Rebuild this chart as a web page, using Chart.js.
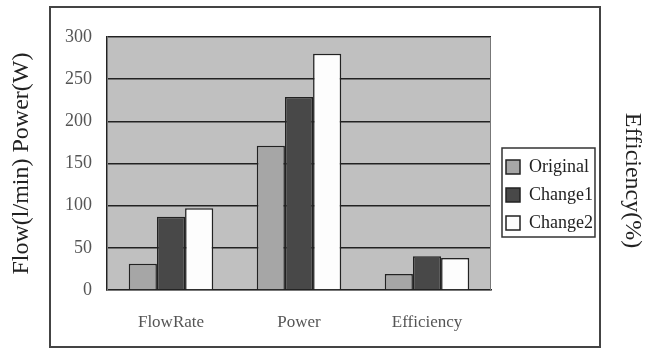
<!DOCTYPE html>
<html>
<head>
<meta charset="utf-8">
<script src="https://cdn.jsdelivr.net/npm/chart.js@4"></script>
<style>
  body { margin: 0; background: #fff; }
</style>
</head>
<body>
<canvas id="chart" width="659" height="349"></canvas>
<script>
// --- Data ---
const categories = ['FlowRate', 'Power', 'Efficiency'];
const seriesNames = ['Original', 'Change1', 'Change2'];
const originalValues = [31, 171, 19];
const change1Values = [87, 229, 40];
const change2Values = [97, 280, 38];
const yTicks = [0, 50, 100, 150, 200, 250, 300];

const SERIF = '"Liberation Serif", "DejaVu Serif", serif';

// plot background, legend frame and outer frame
const framePlugin = {
    id: 'frame',
    afterLayout(chart) {
        // nudge legend a little right/down, and push the right title lower
        const lg = chart.legend;
        lg.left += 5; lg.right += 5;
        lg.top += 2; lg.bottom += 2;
        chart.scales.y1.top = chart.chartArea.top + 34;
    },
    beforeDraw(chart) {
        const { ctx, chartArea: a } = chart;
        ctx.save();
        ctx.fillStyle = '#c0c0c0';
        ctx.fillRect(a.left, a.top, a.right - a.left, a.bottom - a.top);
        ctx.restore();
    },
    afterDraw(chart) {
        const { ctx, chartArea: a } = chart;
        ctx.save();
        // plot border
        ctx.strokeStyle = '#777';
        ctx.lineWidth = 1;
        ctx.strokeRect(a.left + 0.5, a.top + 0.5, a.right - a.left - 1, a.bottom - a.top);
        // legend box
        const hb = chart.legend.legendHitBoxes;
        if (hb && hb.length) {
            const w = Math.max(...hb.map(h => h.width));
            const last = hb[hb.length - 1];
            const x0 = hb[0].left - 4, y0 = hb[0].top - 10;
            ctx.strokeStyle = '#333';
            ctx.lineWidth = 1.5;
            ctx.strokeRect(x0, y0, w + 6, last.top + last.height + 5 - y0);
        }
        // outer frame
        ctx.strokeStyle = '#444';
        ctx.lineWidth = 2;
        ctx.strokeRect(50, 7, 550, 340);
        ctx.restore();
    }
};

const ctx = document.getElementById('chart').getContext('2d');
new Chart(ctx, {
    type: 'bar',
    data: {
        labels: categories,
        datasets: [
            { label: seriesNames[0], data: originalValues, backgroundColor: '#a6a6a6', borderColor: '#222', borderWidth: 1.5 },
            { label: seriesNames[1], data: change1Values, backgroundColor: '#484848', borderColor: '#222', borderWidth: 1.5 },
            { label: seriesNames[2], data: change2Values, backgroundColor: '#fdfdfd', borderColor: '#222', borderWidth: 1.5 }
        ]
    },
    options: {
        responsive: false,
        animation: false,
        layout: { padding: { top: 37, left: 0, right: 0, bottom: 0 } },
        datasets: { bar: { categoryPercentage: 0.66, barPercentage: 1.0 } },
        scales: {
            x: {
                grid: { display: false },
                border: { color: '#222', width: 1.5 },
                ticks: { color: '#555', padding: 14, font: { family: SERIF, size: 17 } },
                afterFit: s => { s.height = 59; }
            },
            y: {
                min: 0, max: 300,
                afterBuildTicks: s => { s.ticks = yTicks.map(v => ({ value: v })); },
                grid: { color: '#222', lineWidth: 1.5, drawTicks: false },
                border: { color: '#222', width: 1.5 },
                ticks: { color: '#555', padding: 15, font: { family: SERIF, size: 18 } },
                title: {
                    display: true, text: 'Flow(l/min) Power(W)', color: '#222',
                    font: { family: SERIF, size: 24 }, padding: { top: 7, bottom: 0 }
                },
                afterFit: s => { s.width = 107; }
            },
            y1: {
                display: true, position: 'right', weight: 2000,
                min: 0, max: 100,
                grid: { display: false },
                border: { display: false },
                ticks: { display: false },
                title: {
                    display: true, text: 'Efficiency(%)', color: '#222',
                    font: { family: SERIF, size: 24 }, padding: { top: 12, bottom: 0 }
                },
                afterFit: s => { s.width = 659 - 491 - (s.chart.legend ? s.chart.legend.width : 107); }
            }
        },
        plugins: {
            legend: {
                position: 'right',
                align: 'center',
                labels: {
                    color: '#222', boxWidth: 14, boxHeight: 14, padding: 10,
                    font: { family: SERIF, size: 18 }
                }
            },
            tooltip: { enabled: false }
        }
    },
    plugins: [framePlugin]
});
</script>
</body>
</html>
